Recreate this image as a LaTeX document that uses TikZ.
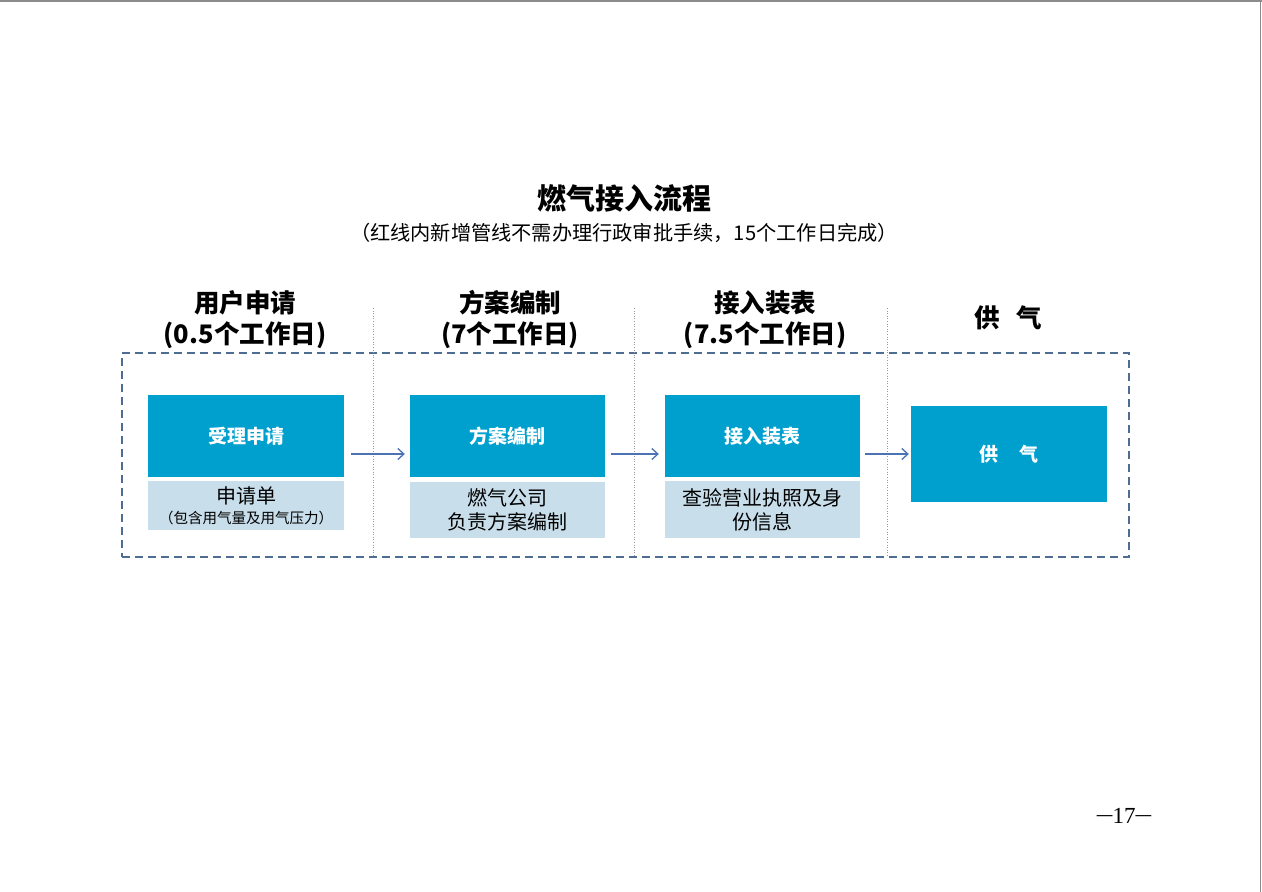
\documentclass[tikz,border=0pt]{standalone}
\usepackage{fontspec}
\usepackage{graphicx}
\newfontfamily\cjk{Noto Sans CJK SC}
\newfontfamily\serifnum{Liberation Serif}
\usetikzlibrary{arrows.meta,calc}
\definecolor{boxblue}{HTML}{00A0CE}
\definecolor{boxlight}{HTML}{C8DEEA}
\definecolor{framecol}{HTML}{4F6C93}
\definecolor{arrcol}{HTML}{4A72B4}
\newcommand{\pgdash}{\raisebox{0.08em}{\scalebox{0.68}[1]{—}}}
\tikzset{
  bluebox/.style={fill=boxblue,draw=none,inner sep=0pt,text=white,font=\cjk\bfseries\fontsize{19}{22}\selectfont,align=center},
  lightbox/.style={fill=boxlight,draw=none,inner sep=0pt,text=black,align=center,font=\cjk\fontsize{20}{24}\selectfont},
  header/.style={inner sep=0pt,align=center,font=\cjk\bfseries\fontsize{25.5}{31}\selectfont},
  arr/.style={draw=arrcol,line width=1.3pt,-{Straight Barb[length=6pt,width=11pt,line width=1.3pt]}},
  sep/.style={draw=gray!80,line width=0.9pt,dash pattern=on 1pt off 1.6pt},
}
\begin{document}
\begin{tikzpicture}[x=1pt,y=-1pt]
\useasboundingbox (0,0) rectangle (1262,892);
\fill[white] (0,0) rectangle (1262,892);
\draw[gray!90,line width=1.5pt] (0,0.75) -- (1262,0.75);
\draw[gray!90,line width=1.5pt] (1260.5,0) -- (1260.5,892);
% title
\node[inner sep=0pt,font=\cjk\bfseries\fontsize{29}{34}\selectfont] (title) at (624,198) {燃气接入流程};
\node[inner sep=0pt,font=\cjk\fontsize{20.2}{24}\selectfont] (subtitle) at (624,233) {（红线内新增管线不需办理行政审批手续，15个工作日完成）};
% frame
\node[draw=framecol,line width=1.5pt,dash pattern=on 8pt off 5pt,minimum width=1007pt,minimum height=204pt,inner sep=0pt] (frame) at (625.5,455) {};
\foreach \xx in {373,634,887}{
  \draw[sep] (\xx,308) -- (\xx,557);
}
% headers
\node[header] (h1) at (245,319.5) {用户申请\\(0.5个工作日)};
\node[header] (h2) at (510,319.5) {方案编制\\(7个工作日)};
\node[header] (h3) at (765,319.5) {接入装表\\(7.5个工作日)};
\node[header] (h4) at (1008,318) {供\hspace{17pt}气};
% boxes
\node[bluebox,minimum width=196pt,minimum height=82pt] (b1) at (246,436) {受理申请};
\node[lightbox,minimum width=196pt,minimum height=49pt] (l1) at (246,505.5) {申请单\\[-4pt]{\fontsize{14.5}{16}\selectfont （包含用气量及用气压力）}};
\node[bluebox,minimum width=195pt,minimum height=82pt] (b2) at (507.5,436) {方案编制};
\node[lightbox,minimum width=195pt,minimum height=56pt] (l2) at (507.5,510) {燃气公司\\负责方案编制};
\node[bluebox,minimum width=195pt,minimum height=82pt] (b3) at (762.5,436) {接入装表};
\node[lightbox,minimum width=195pt,minimum height=57pt] (l3) at (762.5,509.5) {查验营业执照及身\\份信息};
\node[bluebox,minimum width=196pt,minimum height=96pt] (b4) at (1009,454) {供\hspace{22pt}气};
% arrows
\draw[arr,shorten <=7pt,shorten >=5pt] (b1.east |- b4.west) -- (b2.west |- b4.west);
\draw[arr,shorten <=6pt,shorten >=6pt] (b2.east |- b4.west) -- (b3.west |- b4.west);
\draw[arr,shorten <=5pt,shorten >=2pt] (b3.east |- b4.west) -- (b4.west);
% page number
\node[inner sep=0pt,font=\serifnum\fontsize{23}{26}\selectfont] (page) at (1124,816) {\pgdash17\pgdash};
\end{tikzpicture}
\end{document}
